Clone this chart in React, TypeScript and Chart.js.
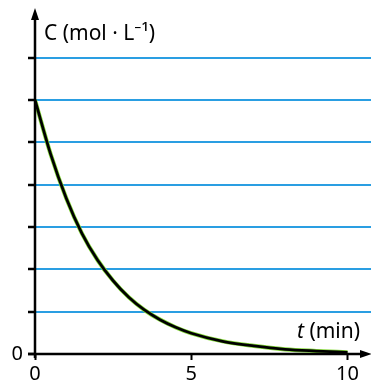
import React, { useEffect, useRef } from "react";
import { Chart, registerables } from "chart.js";

Chart.register(...registerables);

// Data
const times = [0, 0.5, 1, 1.5, 2, 2.5, 3, 3.5, 4, 4.5, 5, 6, 7, 8, 9, 10];
const concentrations = [6, 4.72, 3.68, 2.85, 2.22, 1.73, 1.34, 1.04, 0.81, 0.63, 0.49, 0.3, 0.19, 0.11, 0.07, 0.04];
const yTickValues = [0, 1, 2, 3, 4, 5, 6, 7];
const yTickLabels = ["0", "", "", "", "", "", "", ""];
const xTickValues = [0, 5, 10];
const xTickLabels = ["0", "5", "10"];
const yAxisTitle = "C (mol · L⁻¹)";
const xAxisTitleVar = "t";
const xAxisTitleUnit = " (min)";

const FONT = "'Noto Sans', 'Open Sans', sans-serif";

const axesPlugin = {
  id: "axesArrows",
  afterDraw(chart: any) {
    const { ctx, chartArea, scales } = chart;
    const x0 = scales.x.getPixelForValue(0);
    const y0 = scales.y.getPixelForValue(0);
    const yTop = scales.y.getPixelForValue(8.1);
    ctx.save();
    ctx.strokeStyle = "#000";
    ctx.fillStyle = "#000";
    ctx.lineWidth = 2.5;
    // y axis
    ctx.beginPath();
    ctx.moveTo(x0, y0 + 4);
    ctx.lineTo(x0, yTop + 4);
    ctx.stroke();
    ctx.beginPath();
    ctx.moveTo(x0, yTop - 3);
    ctx.lineTo(x0 - 4, yTop + 9);
    ctx.lineTo(x0 + 4, yTop + 9);
    ctx.closePath();
    ctx.fill();
    // x axis
    ctx.beginPath();
    ctx.moveTo(x0 - 7, y0);
    ctx.lineTo(chartArea.right - 6, y0);
    ctx.stroke();
    ctx.beginPath();
    ctx.moveTo(chartArea.right + 1, y0);
    ctx.lineTo(chartArea.right - 11, y0 - 4);
    ctx.lineTo(chartArea.right - 11, y0 + 4);
    ctx.closePath();
    ctx.fill();
    // titles
    ctx.textBaseline = "alphabetic";
    ctx.textAlign = "left";
    ctx.font = `21px ${FONT}`;
    ctx.fillText(yAxisTitle, x0 + 9, yTop + 29);
    ctx.font = `italic 21px ${FONT}`;
    const tx = chartArea.right - 74;
    const ty = y0 - 16;
    ctx.fillText(xAxisTitleVar, tx, ty);
    const w = ctx.measureText(xAxisTitleVar).width;
    ctx.font = `21px ${FONT}`;
    ctx.fillText(xAxisTitleUnit, tx + w, ty);
    ctx.restore();
  },
};

export default function App() {
  const ref = useRef<HTMLCanvasElement | null>(null);
  useEffect(() => {
    if (!ref.current) return;
    const points = times.map((t, i) => ({ x: t, y: concentrations[i] }));
    const chart = new Chart(ref.current, {
      type: "line",
      data: {
        datasets: [
          {
            data: points,
            borderColor: "#000",
            borderWidth: 2.8,
            pointRadius: 0,
            cubicInterpolationMode: "monotone",
            order: 0,
          },
          {
            data: points,
            borderColor: "#86d93a",
            borderWidth: 4.2,
            pointRadius: 0,
            cubicInterpolationMode: "monotone",
            order: 1,
          },
        ],
      },
      options: {
        responsive: false,
        animation: false,
        layout: { padding: { top: 4, right: 0, left: 0, bottom: 0 } },
        plugins: { legend: { display: false }, tooltip: { enabled: false } },
        scales: {
          x: {
            type: "linear",
            min: 0,
            max: 10.75,
            afterBuildTicks: (s: any) => {
              s.ticks = xTickValues.map((v) => ({ value: v }));
            },
            afterFit: (s: any) => {
              s.height = 35;
            },
            ticks: {
              autoSkip: false,
              maxRotation: 0,
              padding: 2,
              color: "#000",
              font: { family: FONT, size: 20 },
              callback: (v: any) => xTickLabels[xTickValues.indexOf(Number(v))] ?? "",
            },
            grid: {
              drawOnChartArea: false,
              drawTicks: true,
              tickLength: 6,
              tickColor: "#000",
              tickWidth: 2,
            },
            border: { display: false },
          },
          y: {
            type: "linear",
            min: 0,
            max: 7.96,
            afterBuildTicks: (s: any) => {
              s.ticks = yTickValues.map((v) => ({ value: v }));
            },
            afterFit: (s: any) => {
              s.width = 35;
            },
            ticks: {
              autoSkip: false,
              padding: 5,
              color: "#000",
              font: { family: FONT, size: 20 },
              callback: (v: any) => yTickLabels[yTickValues.indexOf(Number(v))] ?? "",
            },
            grid: {
              color: (c: any) => (c.tick && c.tick.value === 0 ? "rgba(0,0,0,0)" : "#2a9ee2"),
              lineWidth: 2,
              drawTicks: true,
              tickLength: 7,
              tickColor: "#000",
              tickWidth: 2.5,
            },
            border: { display: false },
          },
        },
      },
      plugins: [axesPlugin],
    } as any);
    return () => chart.destroy();
  }, []);
  return (
    <div style={{ position: "fixed", left: 0, top: 0, width: 371, height: 389, background: "#fff" }}>
      <canvas ref={ref} width={371} height={389} style={{ width: 371, height: 389, display: "block" }} />
    </div>
  );
}
